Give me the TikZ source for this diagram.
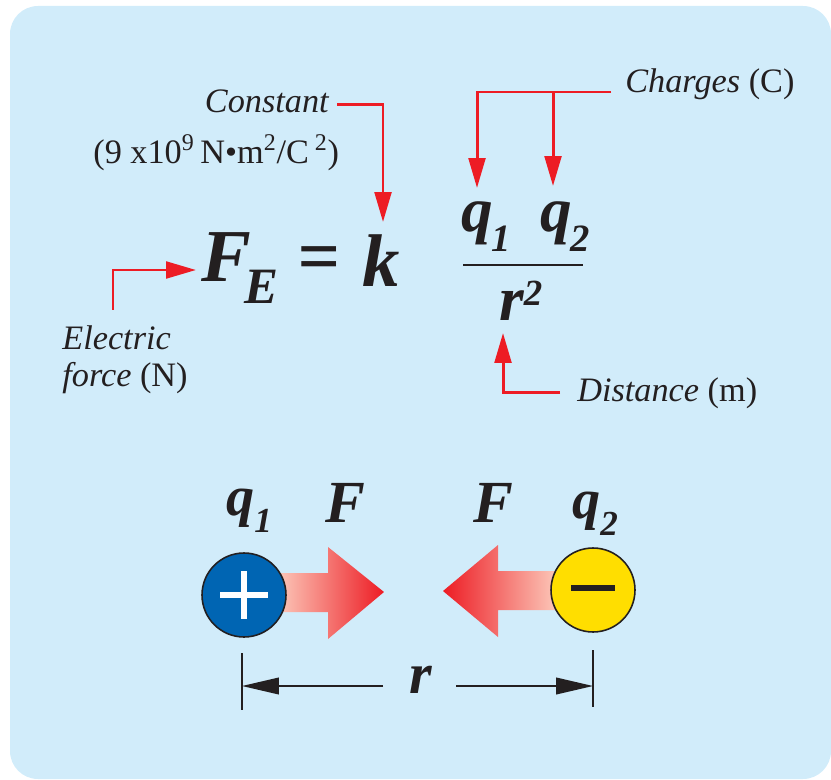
\documentclass[tikz,border=0pt]{standalone}
\usepackage{fontspec}
\setmainfont{Liberation Serif}
\usetikzlibrary{arrows.meta,positioning,calc}
\definecolor{bgcol}{RGB}{209,236,250}
\definecolor{redcol}{RGB}{237,28,36}
\definecolor{midred}{RGB}{242,118,92}
\definecolor{palered}{RGB}{253,212,196}
\definecolor{inkcol}{RGB}{35,31,32}
\definecolor{poscol}{RGB}{0,101,179}
\definecolor{negcol}{RGB}{255,222,0}
\newcommand{\dropidx}[3]{\raisebox{-#2}{\fontsize{#1}{#1}\selectfont #3}}
\newcommand{\liftidx}[3]{\raisebox{#2}{\fontsize{#1}{#1}\selectfont #3}}
\tikzset{
  redarr/.style ={-{Triangle[length=17pt,width=9.5pt]}, line width=1.7pt, draw=redcol},
  dimarr/.style ={-{Triangle[length=21pt,width=9.5pt]}, line width=0.9pt, draw=inkcol},
  tick/.style   ={line width=0.9pt, draw=inkcol},
  note/.style   ={font=\fontsize{19.5}{21.5}\selectfont, text=inkcol, inner sep=0pt},
  eqn/.style    ={font=\fontsize{#1}{#1}\selectfont\bfseries\itshape, text=inkcol, inner sep=0pt},
  charge/.style ={circle, draw=inkcol, line width=0.9pt, fill=#1, minimum size=1.68cm, inner sep=0pt},
}

\begin{document}
\begin{tikzpicture}[x=0.02cm, y=-0.02cm]
\useasboundingbox (0,0) rectangle (831,780);
\fill[bgcol, rounded corners=0.56cm] (10,6) rectangle (831,779);

%% Coulomb equation
\node[eqn=42.5, anchor=base west] (fe) at (201,282) {F\kern-4pt\dropidx{29}{12pt}{E}};
\node[eqn=42.5, anchor=base west] (eq) at (297,282) {=};
\node[eqn=42.5, anchor=base west] (kk) at (362,287) {k};
\node[eqn=36, anchor=base west] (num) at (461,232)
  {q\kern-1pt\dropidx{22}{11pt}{1}\hspace{17pt}q\kern-1pt\dropidx{22}{11pt}{2}};
\node[eqn=36, anchor=base west] (den) at (499,320) {r\liftidx{21}{8.5pt}{2}};
\coordinate (barl) at (463,265);
\coordinate (barr) at (583,265);
\draw[line width=1.7pt, inkcol] (barl) -- (barr);

%% Labels
\node[note, anchor=base east] (const) at (329,113) {\itshape Constant};
\node[note, anchor=base west] (cval) at (93,164)
  {(9 x10\textsuperscript{9}\,N•m\textsuperscript{2}/C\,\textsuperscript{2})};
\node[note, anchor=base west] (chg) at (625,93) {\textit{Charges} (C)};
\node[note, anchor=north west, align=left] (elec) at (62,325)
  {\textit{Electric}\\\textit{force} (N)};
\node[note, anchor=base west] (dist) at (577,401) {\textit{Distance} (m)};

%% Arrow tips
\coordinate (ktip)  at (383,222);
\coordinate (q1tip) at (477,188);
\coordinate (q2tip) at (553,186);
\coordinate (fetip) at (196,270);
\coordinate (rtip)  at (503,333);
\coordinate (chgl)  at ($(chg.base west)+(-14,-1)$);

%% Red arrows
\draw[redarr] ($(const.east)+(8,3)$) -| (ktip);
\draw[redarr] (chgl) -| (q1tip);
\draw[redarr] (q2tip |- chgl) -- (q2tip);
\draw[redarr] ($(elec.north west)+(51,-15)$) |- (fetip);
\draw[redarr] ($(dist.west)+(-17,0)$) -| (rtip);

%% Force arrows
\shade[left color=palered, middle color=midred, right color=redcol]
  (270,573) -- (328,573) -- (328,547) -- (384,592) -- (328,639) -- (328,612) -- (270,612) -- cycle;
\shade[left color=redcol, middle color=midred, right color=palered]
  (443,591) -- (498,545) -- (498,571) -- (565,571) -- (565,610) -- (498,610) -- (498,637) -- cycle;

%% Charges
\node[charge=poscol] (pos) at (244,595) {};
\node[charge=negcol] (neg) at (593,590) {};
\draw[white, line width=3.4pt] ($(pos)+(-24,0)$) -- ($(pos)+(24,0)$)
  ($(pos)+(0,-24)$) -- ($(pos)+(0,24)$);
\draw[inkcol, line width=3.4pt] ($(neg)+(-22,-2)$) -- ($(neg)+(22,-2)$);

\node[eqn=32, anchor=base west] (lq1) at (226,515) {q\dropidx{20}{10pt}{1}};
\node[eqn=34, anchor=base west] (lf1) at (325,522) {F};
\node[eqn=34, anchor=base west] (lf2) at (473,522) {F};
\node[eqn=32, anchor=base west] (lq2) at (572,518) {q\dropidx{20}{10pt}{2}};

%% Distance r
\node[eqn=33, anchor=base west] (rr) at (409,693) {r};
\coordinate (tl1) at (242,653);
\coordinate (tl2) at (242,710);
\coordinate (tr1) at (593,650);
\coordinate (tr2) at (593,707);
\draw[tick] (tl1) -- (tl2);
\draw[tick] (tr1) -- (tr2);
\draw[dimarr] ($(rr.base west)+(-26,-7)$) -- (tl1 |- 0,686);
\draw[dimarr] ($(rr.base east)+(24,-7)$) -- (tr1 |- 0,686);

\end{tikzpicture}
\end{document}
